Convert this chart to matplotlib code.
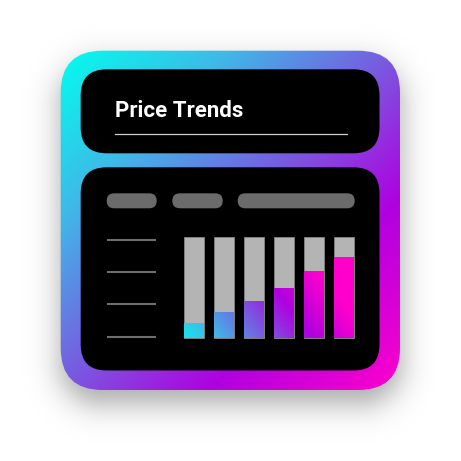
import numpy as np
import matplotlib
matplotlib.use("Agg")
import matplotlib.pyplot as plt
from matplotlib.patches import FancyBboxPatch
from matplotlib.colors import LinearSegmentedColormap

# datos del icono
title = "Price Trends"
bar_labels = ["1", "2", "3", "4", "5", "6"]
bar_values = [15, 26, 37, 50, 66, 80]
bar_max = 100
grad_pos = [0.0, 0.25, 0.5, 0.72, 1.0]
grad_colors = ["#00ffee", "#40b8e8", "#7a58e0", "#b000e0", "#ff00cc"]

W = 461
cmap = LinearSegmentedColormap.from_list("marco", list(zip(grad_pos, grad_colors)))


def rbox(x0, y0, x1, y1, r, **kw):
    return FancyBboxPatch((x0, y0), x1 - x0, y1 - y0,
                          boxstyle=f"round,pad=0,rounding_size={r}", **kw)


fig = plt.figure(figsize=(4.61, 4.61), dpi=100, facecolor="white")
ax = fig.add_axes([0, 0, 1, 1])
ax.set_xlim(0, W)
ax.set_ylim(W, 0)
ax.axis("off")

# sombra (rectangulo redondeado difuminado)
yy, xx = np.mgrid[0:W, 0:W] + 0.5
cx, cy = (60.7 + 400) / 2, (50.7 + 390) / 2 + 14
hw, hh, r = (400 - 60.7) / 2, (390 - 50.7) / 2, 42
qx = np.abs(xx - cx) - (hw - r)
qy = np.abs(yy - cy) - (hh - r)
d = np.hypot(np.maximum(qx, 0), np.maximum(qy, 0)) + np.minimum(np.maximum(qx, qy), 0) - r
sombra = np.zeros((W, W, 4))
sombra[..., 3] = 0.34 / (1 + np.exp(d / 9.0))
ax.imshow(sombra, extent=(0, W, W, 0), zorder=1, interpolation="bilinear")

# marco con degradado
marco = rbox(60.7, 50.7, 400, 390, 42, fc="none", ec="none", zorder=2)
ax.add_patch(marco)
t = np.clip(((xx - 60) + (yy - 50)) / 680, 0, 1)
im = ax.imshow(cmap(t), extent=(0, W, W, 0), zorder=2, interpolation="bilinear")
im.set_clip_path(marco)

# paneles negros
ax.add_patch(rbox(80.7, 69.3, 379.5, 153.3, 26, fc="black", ec="none", zorder=3))
ax.add_patch(rbox(80.7, 167.3, 379.5, 370.5, 26, fc="black", ec="none", zorder=3))

# titulo
ax.text(115, 117, title, fontsize=16, fontweight="bold", color="white",
        va="baseline", ha="left", family="Roboto", zorder=4)
ax.plot([115, 347], [134.3, 134.3], color="#cfcfcf", lw=0.9, zorder=4)

# pastillas grises
for x0, x1 in [(106.7, 156.7), (172.3, 222.7), (237.7, 354.7)]:
    ax.add_patch(rbox(x0, 193.3, x1, 208.3, 7.5, fc="#6b6b6b", ec="none", zorder=4))

# lineas de la izquierda
for y in [240, 272, 304.3, 336.7]:
    ax.plot([107.3, 155.7], [y, y], color="#6e6e6e", lw=1.5, zorder=4, solid_capstyle="butt")

# barras
bx = fig.add_axes([184 / W, (W - 338) / W, 170 / W, 101 / W])
bx.axis("off")
x = np.arange(len(bar_values))
w = 0.65
bx.bar(x, [bar_max] * len(x), width=w, color="#b4b4b4", edgecolor="#858585", lw=0.6,
       clip_on=False, zorder=1)
barras = bx.bar(x, bar_values, width=w, color="none", edgecolor="none", clip_on=False, zorder=2)

ext = (-0.325, 5.325, 0, 100)
gx, gy = np.meshgrid(np.linspace(ext[0], ext[1], 200), np.linspace(0, 100, 120))
px = 184 + (gx - ext[0]) * 170 / (ext[1] - ext[0])
py = 338 - gy * 1.01
tb = np.clip(0.1 + ((px - 184) + 0.8 * (338 - py)) * 0.00477, 0, 1)
for p in barras:
    g = bx.imshow(cmap(tb), extent=ext, origin="lower", aspect="auto",
                  interpolation="bilinear", zorder=3)
    g.set_clip_path(p)
bx.set_xlim(ext[0], ext[1])
bx.set_ylim(0, 100)

fig.savefig("out.png", dpi=100, facecolor="white")
